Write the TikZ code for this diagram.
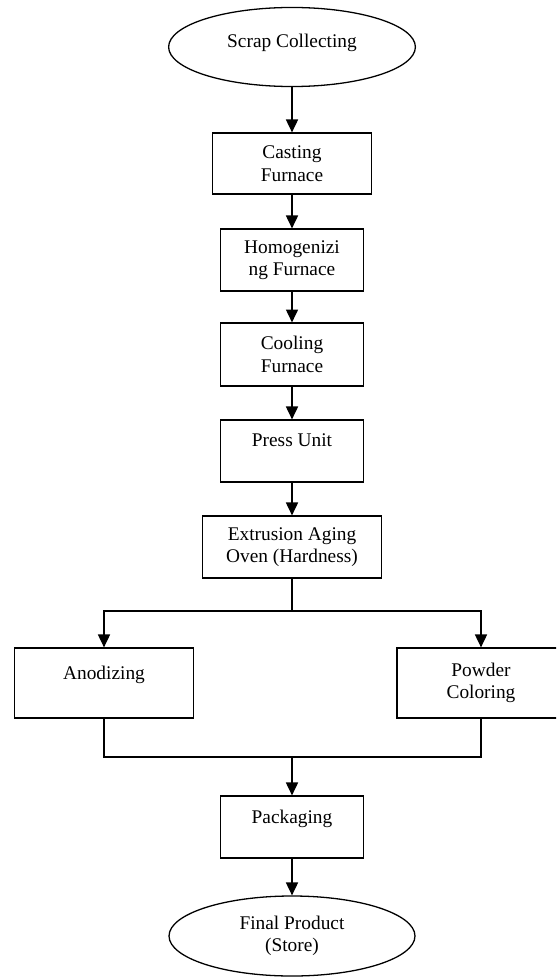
\documentclass[tikz,border=0pt]{standalone}
\usepackage{fontspec}
\setmainfont{Liberation Serif}
\usepackage{tikz}
\usetikzlibrary{positioning,calc,shapes.geometric,arrows.meta}
\tikzset{
    procbox/.style={rectangle, draw=black, line width=0.8pt, fill=white, align=center, inner sep=2pt, font=\fontsize{12}{14}\selectfont},
    endnode/.style={ellipse, draw=black, line width=0.8pt, fill=white, align=center, inner sep=0pt, font=\fontsize{12}{14}\selectfont},
    oneline/.style={text depth=13pt},
    flow/.style={draw=black, line width=0.8pt, -{Triangle[length=8pt, width=7.5pt]}},
    link/.style={draw=black, line width=0.8pt}
}
\begin{document}
\begin{tikzpicture}[x=0.62pt, y=-0.62pt]
    \clip (0,0) rectangle (556,977);
    % --- Main column ---
    \node[endnode, minimum width=153pt, minimum height=49pt, text depth=8pt] (scrap) at (292,47) {Scrap Collecting};
    \node[procbox, minimum width=98.6pt, minimum height=37.8pt] (cast) at (292,163.5) {Casting\\Furnace};
    \node[procbox, minimum width=88.4pt, minimum height=38.4pt] (homo) at (292,260) {Homogenizi\\ng Furnace};
    \node[procbox, minimum width=88.4pt, minimum height=39pt] (cool) at (292,354.5) {Cooling\\Furnace};
    \node[procbox, oneline, minimum width=88.4pt, minimum height=38.4pt] (press) at (292,451) {Press Unit};
    \node[procbox, minimum width=111pt, minimum height=38.4pt] (extr) at (292,547) {Extrusion Aging\\Oven (Hardness)};
    \draw[flow] (scrap) -- (cast);
    \draw[flow] (cast) -- (homo);
    \draw[flow] (homo) -- (cool);
    \draw[flow] (cool) -- (press);
    \draw[flow] (press) -- (extr);
    % --- Two finishing branches ---
    \node[procbox, oneline, minimum width=111pt, minimum height=43.4pt] (anod) at (104,683) {Anodizing};
    \node[procbox, minimum width=104.2pt, minimum height=43.4pt] (powd) at (481,683) {Powder\\Coloring};
    \coordinate (split) at (292,611);
    \coordinate (join) at (292,757);
    \draw[link] (extr) -- (split);
    \draw[flow] (split) -| (anod);
    \draw[flow] (split) -| (powd);
    \draw[link] (anod) |- (join);
    \draw[link] (powd) |- (join);
    % --- End of line ---
    \node[procbox, oneline, minimum width=88.4pt, minimum height=38.4pt] (pack) at (292,827) {Packaging};
    \node[endnode, minimum width=152.5pt, minimum height=49.6pt] (final) at (292,936) {Final Product\\(Store)};
    \draw[flow] (join) -- (pack);
    \draw[flow] (pack) -- (final);
\end{tikzpicture}
\end{document}
